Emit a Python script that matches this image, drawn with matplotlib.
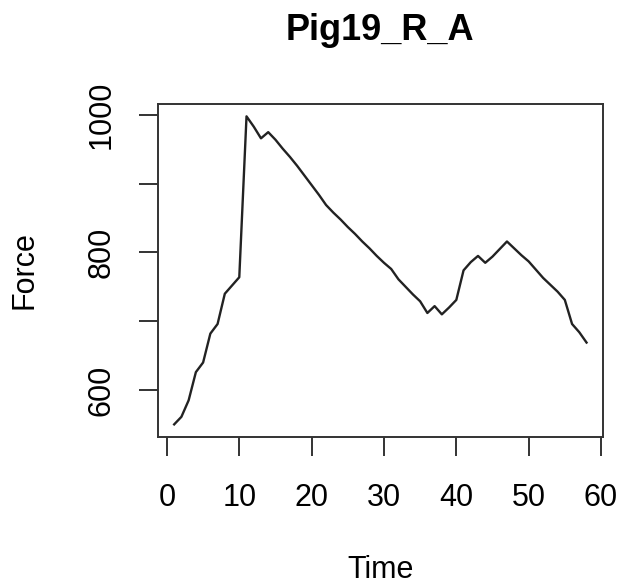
import numpy as np
import matplotlib.pyplot as plt

plt.rcParams['font.family'] = ['Liberation Sans', 'DejaVu Sans']

# time points and force readings
time = list(range(1, 59))
force = [550, 561, 585, 626, 640, 682, 696, 740, 752, 764,
         998, 983, 966, 975, 964, 951, 939, 926, 912, 898,
         884, 869, 858, 848, 837, 827, 816, 806, 795, 785,
         776, 761, 750, 739, 729, 712, 722, 710, 720, 731,
         774, 786, 795, 785, 794, 805, 816, 806, 796, 787,
         775, 763, 753, 743, 731, 696, 684, 669]

xticks = [0, 10, 20, 30, 40, 50, 60]
yticks = [600, 800, 1000]
yticks_minor = [700, 900]

fig = plt.figure(figsize=(6.22, 5.85), dpi=100)
ax = fig.add_axes([0.2535, 0.2535, 0.716, 0.5687])

ax.plot(time, force, color='#222222', lw=1.7)

# R style: 4% padding on both axes
xr = max(time) - min(time)
yr = max(force) - min(force)
ax.set_xlim(min(time) - 0.04 * xr, max(time) + 0.04 * xr)
ax.set_ylim(min(force) - 0.04 * yr, max(force) + 0.04 * yr)

ax.set_xticks(xticks)
ax.set_yticks(yticks + yticks_minor)
ax.set_yticklabels([str(v) if v in yticks else '' for v in yticks + yticks_minor])

for s in ax.spines.values():
    s.set_linewidth(1.4)
    s.set_color('#333333')

ax.tick_params(axis='both', direction='out', length=13.5, width=1.4,
               color='#333333', labelsize=22)
ax.tick_params(axis='x', pad=20)
ax.tick_params(axis='y', pad=16)
for lbl in ax.get_yticklabels():
    lbl.set_rotation(90)
    lbl.set_va('center')

ax.set_xlabel('Time', fontsize=22, labelpad=30)
ax.set_ylabel('Force', fontsize=22, labelpad=34)
ax.set_title('Pig19_R_A', fontsize=26, fontweight='bold', pad=46)

fig.savefig('out.png', dpi=100)
